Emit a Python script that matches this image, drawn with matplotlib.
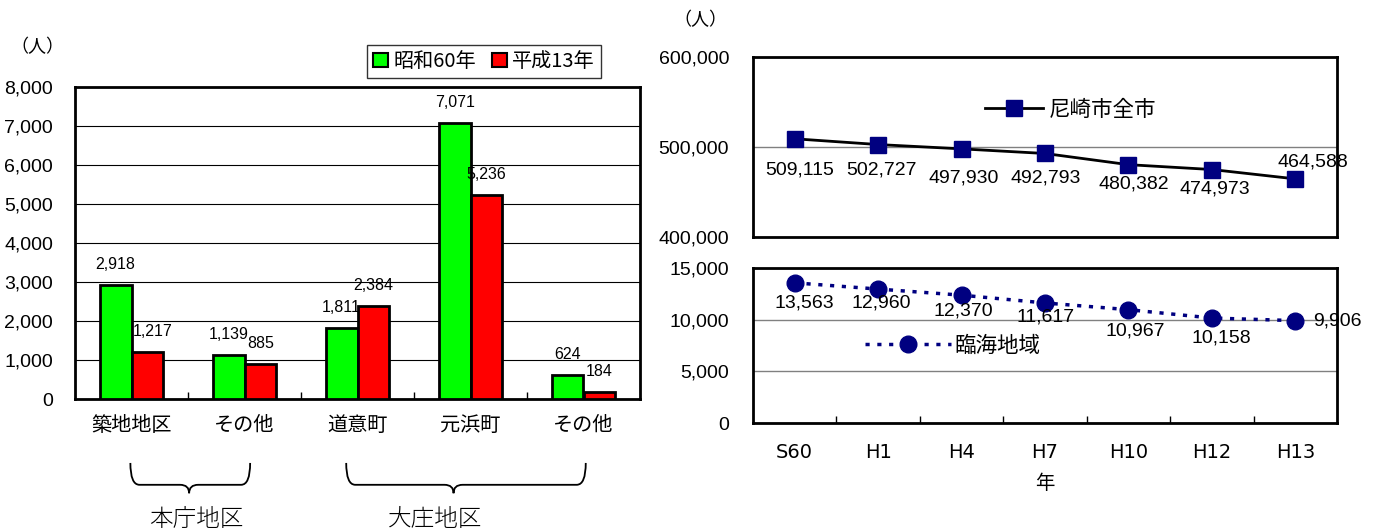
import matplotlib
matplotlib.use("Agg")
import matplotlib.pyplot as plt
from matplotlib.patches import Patch, PathPatch
from matplotlib.path import Path
from matplotlib.lines import Line2D
import matplotlib.transforms as mtransforms

# ---- data -------------------------------------------------------------
districts = ["築地地区", "その他", "道意町", "元浜町", "その他"]
pop_s60 = [2918, 1139, 1811, 7071, 624]
pop_h13 = [1217, 885, 2384, 5236, 184]
bar_series = ["昭和60年", "平成13年"]

years = ["S60", "H1", "H4", "H7", "H10", "H12", "H13"]
city_total = [509115, 502727, 497930, 492793, 480382, 474973, 464588]
coastal = [13563, 12960, 12370, 11617, 10967, 10158, 9906]
line_series = ["尼崎市全市", "臨海地域"]

groups = [("本庁地区", 0, 1), ("大庄地区", 2, 4)]

# ---- style ------------------------------------------------------------
DPI = 100
NUM = ["Liberation Sans", "Noto Sans CJK JP"]
JP = ["Noto Sans CJK JP", "DejaVu Sans"]
GREEN, RED, NAVY = "#00FF00", "#FF0000", "#000080"


def px(v):
    return v * 72.0 / DPI


fig = plt.figure(figsize=(13.83, 5.31), dpi=DPI)
W, H = 1383.0, 531.0


def box(l, t, r, b):
    return [l / W, 1 - b / H, (r - l) / W, (b - t) / H]


# ======================= left: bar chart ================================
ax = fig.add_axes(box(75, 87, 640, 399))
n = len(districts)
xs = list(range(n))
bw = 0.28
ax.bar([x - bw / 2 for x in xs], pop_s60, bw, color=GREEN, edgecolor="black",
       linewidth=2, zorder=3)
ax.bar([x + bw / 2 for x in xs], pop_h13, bw, color=RED, edgecolor="black",
       linewidth=2, zorder=3)
ax.set_xlim(-0.5, n - 0.5)
ax.set_ylim(0, 8000)
ax.set_yticks(range(0, 8001, 1000))
ax.set_yticklabels([f"{v:,}" for v in range(0, 8001, 1000)], family=NUM,
                   fontsize=14)
ax.yaxis.grid(True, color="black", linewidth=0.8, zorder=0)
ax.tick_params(axis="y", length=0, pad=px(22))
ax.set_xticks(xs)
ax.set_xticklabels(districts, family=JP, fontsize=14.5)
ax.tick_params(axis="x", length=0, pad=px(16))
# boundary ticks pointing up into the plot
ax.set_xticks([x + 0.5 for x in xs[:-1]], minor=True)
ax.tick_params(axis="x", which="minor", direction="in", length=px(7),
               width=1, color="black")
for s in ax.spines.values():
    s.set_linewidth(2)

for x, v in zip(xs, pop_s60):
    ax.annotate(f"{v:,}", (x - bw / 2, v), xytext=(0, px(13)),
                textcoords="offset points", ha="center", va="bottom",
                family=NUM, fontsize=11.5)
h13_dx = [5, 0, 0, 0, 0]
for x, v, dx in zip(xs, pop_h13, h13_dx):
    ax.annotate(f"{v:,}", (x + bw / 2, v), xytext=(px(dx), px(13)),
                textcoords="offset points", ha="center", va="bottom",
                family=NUM, fontsize=11.5)

fig.text(10 / W, 1 - 47 / H, "（人）", family=JP, fontsize=13,
         ha="left", va="center")

leg = fig.legend(
    handles=[Patch(facecolor=GREEN, edgecolor="black", linewidth=1.5),
             Patch(facecolor=RED, edgecolor="black", linewidth=1.5)],
    labels=bar_series, loc="upper left",
    bbox_to_anchor=(367 / W, 1 - 45 / H), ncol=2, frameon=True,
    fancybox=False, shadow=False, edgecolor="black", handlelength=0.75,
    handleheight=0.75, handletextpad=0.25, columnspacing=0.8,
    borderpad=0.3, borderaxespad=0, prop={"family": JP, "size": 14.5})
leg.get_frame().set_linewidth(1)

# group braces under the category labels
btrans = mtransforms.blended_transform_factory(ax.transData, ax.transAxes)
brace_span = [(-0.01, 0.05, 0.51, 0.57), (-0.10, 0.02, 2.85, 2.69)]
for (name, i0, i1), (e0, e1, tip, lab) in zip(groups, brace_span):
    x0, x1 = i0 + e0, i1 + e1
    top, mid, bot = -0.205, -0.275, -0.302
    d = 0.08
    verts = [(x0, top), (x0, mid), (x0 + d, mid), (x0 + d, mid),
             (tip - d, mid), (tip, mid), (tip, bot),
             (tip, mid), (tip + d, mid),
             (x1 - d, mid), (x1 - d, mid), (x1, mid), (x1, top)]
    codes = [Path.MOVETO, Path.CURVE3, Path.CURVE3, Path.LINETO,
             Path.LINETO, Path.CURVE3, Path.CURVE3,
             Path.CURVE3, Path.CURVE3,
             Path.LINETO, Path.LINETO, Path.CURVE3, Path.CURVE3]
    ax.add_patch(PathPatch(Path(verts, codes), transform=btrans,
                           facecolor="none", edgecolor="black",
                           linewidth=1.3, clip_on=False))
    ax.text(lab, -0.385, name, transform=btrans, ha="center",
            va="center", family=JP, fontsize=17, fontweight="light")

# ======================= right: line charts =============================
m = len(years)
xr = list(range(m))
axt = fig.add_axes(box(753, 57, 1337, 237))
axb = fig.add_axes(box(753, 268, 1337, 423))

for a in (axt, axb):
    a.set_xlim(-0.5, m - 0.5)
    for s in a.spines.values():
        s.set_linewidth(2)
    a.yaxis.grid(True, color="#808080", linewidth=1, zorder=0)

axt.plot(xr, city_total, color="black", linewidth=2, marker="s",
         markersize=11, markerfacecolor=NAVY, markeredgecolor=NAVY, zorder=3)
axt.set_ylim(400000, 600000)
axt.set_yticks([400000, 500000, 600000])
axt.set_yticklabels([f"{v:,}" for v in (400000, 500000, 600000)],
                    family=NUM, fontsize=14)
axt.tick_params(axis="y", length=0, pad=px(24))
axt.tick_params(axis="x", length=0, labelbottom=False)
axt.set_xticks([])

top_off = [(5, -31), (3, -25), (2, -29), (1, -25), (5, -19), (3, -19),
           (18, 17)]
for x, v, (dx, dy) in zip(xr, city_total, top_off):
    axt.annotate(f"{v:,}", (x, v), xytext=(px(dx), px(dy)),
                 textcoords="offset points", ha="center", va="center",
                 family=NUM, fontsize=14, annotation_clip=False)

axb.plot(xr, coastal, color=NAVY, linewidth=2.5, linestyle=(0, (1.2, 2.2)),
         marker="o", markersize=12, markerfacecolor=NAVY,
         markeredgecolor=NAVY, zorder=3)
axb.set_ylim(0, 15000)
axb.set_yticks(range(0, 15001, 5000))
axb.set_yticklabels([f"{v:,}" for v in range(0, 15001, 5000)], family=NUM,
                    fontsize=14)
axb.tick_params(axis="y", length=0, pad=px(24))
axb.set_xticks(xr)
axb.set_xticklabels(years, family="DejaVu Sans", fontsize=14)
axb.tick_params(axis="x", length=0, pad=px(20))
axb.set_xticks([x + 0.5 for x in xr[:-1]], minor=True)
axb.tick_params(axis="x", which="minor", direction="in", length=px(7),
                width=1, color="black")
axb.set_xlabel("年", family=JP, fontsize=14, labelpad=px(11))

bot_off = [(10, -20), (3, -14), (2, -16), (1, -14), (7, -21), (9, -20)]
for x, v, (dx, dy) in zip(xr, coastal, bot_off):
    axb.annotate(f"{v:,}", (x, v), xytext=(px(dx), px(dy)),
                 textcoords="offset points", ha="center", va="center",
                 family=NUM, fontsize=14)
axb.annotate(f"{coastal[-1]:,}", (xr[-1], coastal[-1]),
             xytext=(px(18), 0), textcoords="offset points", ha="left",
             va="center", family=NUM, fontsize=14, annotation_clip=False)

fig.text(673 / W, 1 - 20 / H, "（人）", family=JP, fontsize=13,
         ha="left", va="center")

lt = axt.legend(
    handles=[Line2D([], [], color="black", linewidth=2, marker="s",
                    markersize=11, markerfacecolor=NAVY,
                    markeredgecolor=NAVY)],
    labels=[line_series[0]], loc="center left",
    bbox_to_anchor=(985 / W, 1 - 110 / H), bbox_transform=fig.transFigure,
    frameon=False, handlelength=2.7, handletextpad=0.25, borderpad=0,
    borderaxespad=0, prop={"family": JP, "size": 15.5})
lb = axb.legend(
    handles=[Line2D([], [], color=NAVY, linewidth=2.5,
                    linestyle=(0, (1.2, 2.2)), marker="o", markersize=12,
                    markerfacecolor=NAVY, markeredgecolor=NAVY)],
    labels=[line_series[1]], loc="center left",
    bbox_to_anchor=(865 / W, 1 - 346 / H), bbox_transform=fig.transFigure,
    frameon=False, handlelength=4.0, handletextpad=0.15, borderpad=0,
    borderaxespad=0, prop={"family": JP, "size": 15.5})

fig.savefig("out.png", dpi=DPI)
